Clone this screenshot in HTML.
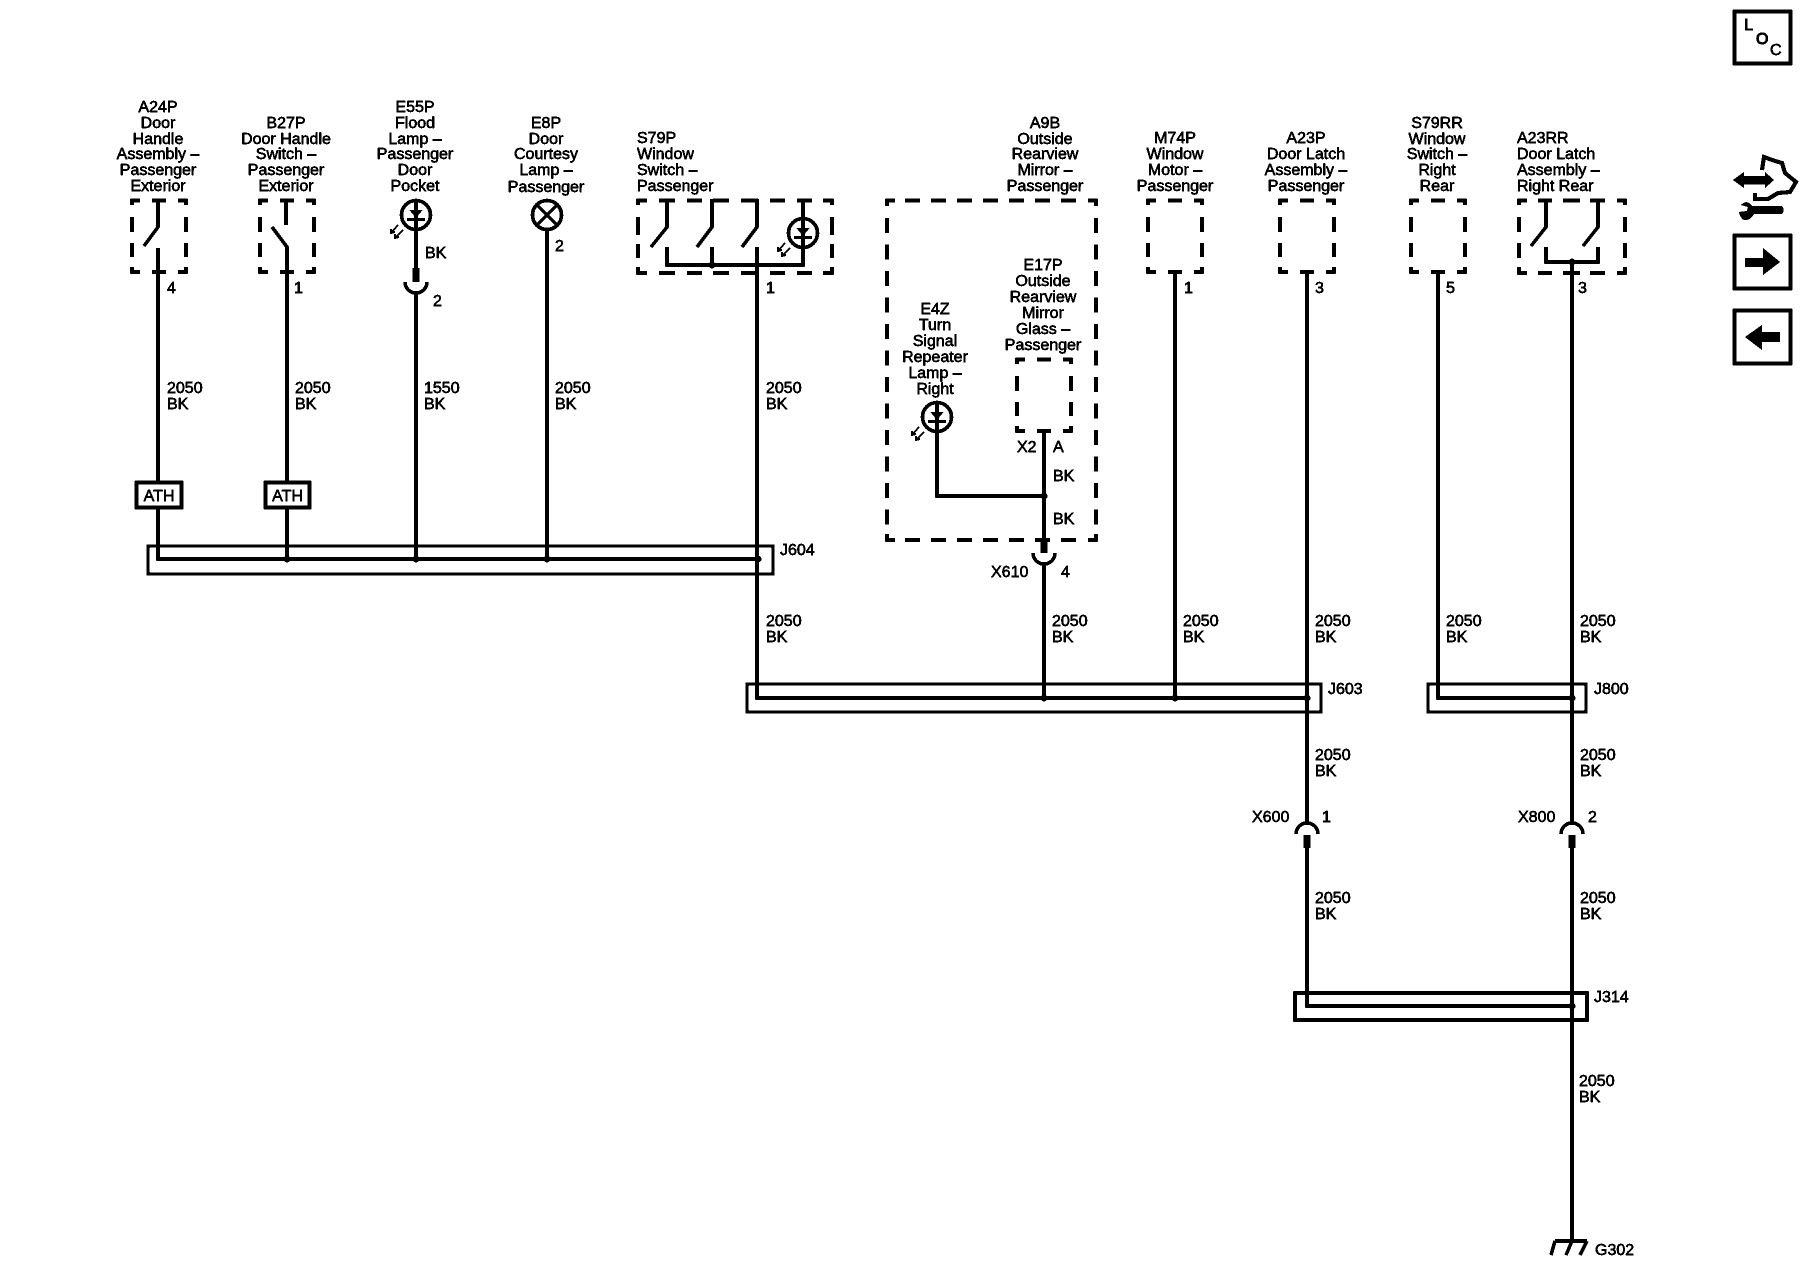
<!DOCTYPE html>
<html><head><meta charset="utf-8">
<style>
html,body{margin:0;padding:0;background:#fff;width:1800px;height:1280px;overflow:hidden}
svg{display:block}
text{font-family:"Liberation Sans",Arial,sans-serif;font-size:16px;fill:#000;stroke:#000;stroke-width:.5px}
.m{text-anchor:middle}
.w{fill:none;stroke:#000;stroke-width:3.4}
.d{fill:none;stroke:#000;stroke-width:3.6}
.t{fill:none;stroke:#000;stroke-width:7}
</style></head><body>
<svg xmlns="http://www.w3.org/2000/svg" width="1800" height="1280" viewBox="0 0 1800 1280" filter="url(#bw)">
<defs>
<filter id="bw" x="0" y="0" width="100%" height="100%" color-interpolation-filters="sRGB">
<feComponentTransfer><feFuncR type="discrete" tableValues="0 0 1"/><feFuncG type="discrete" tableValues="0 0 1"/><feFuncB type="discrete" tableValues="0 0 1"/></feComponentTransfer>
</filter>
<g id="box"><path class="d" d="M-27,6V1.500H-19M-7,1.500H7M19,1.500H27V6M-27,18V33M27,18V33M-27,44V58M27,44V58M-27,68V73H-19M-7,73H7M19,73H27V68"/></g>
<g id="led">
<path class="w" d="M0,-15V15"/>
<circle r="14.500" fill="none" stroke="#000" stroke-width="3.500"/>
<path d="M-6.500,-5H6.500L0,3Z" fill="#000"/>
<path d="M-9,4.500H9" stroke="#000" stroke-width="2.600"/>
<path d="M-18,10L-25,18M-13,15L-21,23M-25,14L-25,18L-21,17M-21,19L-21,23L-17,22" fill="none" stroke="#000" stroke-width="1.700"/>
</g>
</defs>
<rect width="1800" height="1280" fill="#fff"/>

<!-- labels -->
<text x="158" y="112" class="m">A24P</text><text x="158" y="128" class="m">Door</text><text x="158" y="144" class="m">Handle</text><text x="158" y="159" class="m">Assembly –</text><text x="158" y="175" class="m">Passenger</text><text x="158" y="191" class="m">Exterior</text>
<text x="286" y="128" class="m">B27P</text><text x="286" y="144" class="m">Door Handle</text><text x="286" y="159" class="m">Switch –</text><text x="286" y="175" class="m">Passenger</text><text x="286" y="191" class="m">Exterior</text>
<text x="415" y="112" class="m">E55P</text><text x="415" y="128" class="m">Flood</text><text x="415" y="144" class="m">Lamp –</text><text x="415" y="159" class="m">Passenger</text><text x="415" y="175" class="m">Door</text><text x="415" y="191" class="m">Pocket</text>
<text x="546" y="128" class="m">E8P</text><text x="546" y="144" class="m">Door</text><text x="546" y="159" class="m">Courtesy</text><text x="546" y="175" class="m">Lamp –</text><text x="546" y="192" class="m">Passenger</text>
<text x="1045" y="128" class="m">A9B</text><text x="1045" y="144" class="m">Outside</text><text x="1045" y="159" class="m">Rearview</text><text x="1045" y="175" class="m">Mirror –</text><text x="1045" y="191" class="m">Passenger</text>
<text x="1043" y="270" class="m">E17P</text><text x="1043" y="286" class="m">Outside</text><text x="1043" y="302" class="m">Rearview</text><text x="1043" y="318" class="m">Mirror</text><text x="1043" y="334" class="m">Glass –</text><text x="1043" y="350" class="m">Passenger</text>
<text x="935" y="314" class="m">E4Z</text><text x="935" y="330" class="m">Turn</text><text x="935" y="346" class="m">Signal</text><text x="935" y="362" class="m">Repeater</text><text x="935" y="378" class="m">Lamp –</text><text x="935" y="394" class="m">Right</text>
<text x="1175" y="143" class="m">M74P</text><text x="1175" y="159" class="m">Window</text><text x="1175" y="175" class="m">Motor –</text><text x="1175" y="191" class="m">Passenger</text>
<text x="1306" y="143" class="m">A23P</text><text x="1306" y="159" class="m">Door Latch</text><text x="1306" y="175" class="m">Assembly –</text><text x="1306" y="191" class="m">Passenger</text>
<text x="1437" y="128" class="m">S79RR</text><text x="1437" y="144" class="m">Window</text><text x="1437" y="159" class="m">Switch –</text><text x="1437" y="175" class="m">Right</text><text x="1437" y="191" class="m">Rear</text>
<text x="637" y="143">S79P</text><text x="637" y="159">Window</text><text x="637" y="175">Switch –</text><text x="637" y="191">Passenger</text>
<text x="1517" y="143">A23RR</text><text x="1517" y="159">Door Latch</text><text x="1517" y="175">Assembly –</text><text x="1517" y="191">Right Rear</text>

<!-- pin numbers -->
<text x="167" y="293">4</text><text x="294" y="293">1</text><text x="425" y="258">BK</text><text x="433" y="306">2</text><text x="555" y="251">2</text><text x="766" y="293">1</text><text x="1184" y="293">1</text><text x="1315" y="293">3</text><text x="1446" y="293">5</text><text x="1578" y="293">3</text>
<text x="1017" y="452">X2</text><text x="1053" y="452">A</text><text x="1053" y="481">BK</text><text x="1053" y="524">BK</text><text x="991" y="577">X610</text><text x="1061" y="577">4</text>

<!-- wire labels -->
<text x="167" y="393">2050</text><text x="167" y="409">BK</text>
<text x="295" y="393">2050</text><text x="295" y="409">BK</text>
<text x="424" y="393">1550</text><text x="424" y="409">BK</text>
<text x="555" y="393">2050</text><text x="555" y="409">BK</text>
<text x="766" y="393">2050</text><text x="766" y="409">BK</text>
<text x="766" y="626">2050</text><text x="766" y="642">BK</text>
<text x="1052" y="626">2050</text><text x="1052" y="642">BK</text>
<text x="1183" y="626">2050</text><text x="1183" y="642">BK</text>
<text x="1315" y="626">2050</text><text x="1315" y="642">BK</text>
<text x="1446" y="626">2050</text><text x="1446" y="642">BK</text>
<text x="1580" y="626">2050</text><text x="1580" y="642">BK</text>
<text x="1315" y="760">2050</text><text x="1315" y="776">BK</text>
<text x="1580" y="760">2050</text><text x="1580" y="776">BK</text>
<text x="1315" y="903">2050</text><text x="1315" y="919">BK</text>
<text x="1580" y="903">2050</text><text x="1580" y="919">BK</text>
<text x="1579" y="1086">2050</text><text x="1579" y="1102">BK</text>
<text x="780" y="555">J604</text><text x="1328" y="694">J603</text><text x="1594" y="694">J800</text><text x="1594" y="1002">J314</text>
<text x="1252" y="822">X600</text><text x="1322" y="822">1</text><text x="1518" y="822">X800</text><text x="1588" y="822">2</text>
<text x="1595" y="1255">G302</text>

<!-- dashed boxes -->
<use href="#box" x="159" y="199"/><use href="#box" x="287" y="199"/><use href="#box" x="1175" y="199"/><use href="#box" x="1307" y="199"/><use href="#box" x="1438" y="199"/><use href="#box" x="1044" y="358"/>
<path class="d" d="M638,205V200.500H647M659,200.500H675M687,200.500H702M713,200.500H729M741,200.500H758M770,200.500H785M797,200.500H812M823,200.500H832V205M638,217V235M832,217V235M638,244V258M832,244V258M638,267V273H647M659,273H675M687,273H702M713,273H729M741,273H758M770,273H785M797,273H812M823,273H832V267"/>
<path class="d" d="M1519,205V200.500H1527M1538,200.500H1552M1563,200.500H1580M1590,200.500H1605M1617,200.500H1625V205M1519,217V232M1625,217V232M1519,243V258M1625,243V258M1519,267V273H1527M1538,273H1552M1563,273H1580M1590,273H1605M1617,273H1625V267"/>
<path class="d" d="M895,200.500H887V206"/><path class="d" d="M1088,200.500H1096V206"/><path class="d" d="M895,540H887V534"/><path class="d" d="M1088,540H1096V534"/>
<path class="d" d="M905,200.500H1080" stroke-dasharray="15 11"/>
<path class="d" d="M905,540H1080" stroke-dasharray="15 11"/>
<path class="d" d="M887,218V525" stroke-dasharray="15 11.500"/>
<path class="d" d="M1096,218V525" stroke-dasharray="15 11.500"/>

<!-- buses -->
<rect x="148" y="546" width="625" height="28" fill="none" stroke="#000" stroke-width="3.300"/>
<rect x="747" y="684" width="574" height="28" fill="none" stroke="#000" stroke-width="3.300"/>
<rect x="1428" y="684" width="158" height="28" fill="none" stroke="#000" stroke-width="3.300"/>
<rect x="1295" y="993" width="292" height="27" fill="none" stroke="#000" stroke-width="3.400"/>

<!-- wires -->
<path class="w" d="M158,199V227L144,246M158,248V559H757"/>
<path class="w" d="M286,199V225M272,227L287,247V559"/>
<path class="w" d="M416,199V270M416,293V559"/>
<path class="t" d="M416,268V282"/>
<path class="w" stroke-width="3.600" d="M405,282A11,11 0 0 0 427,282"/>
<path class="w" d="M547,199V559"/>
<path class="w" d="M667,199V227L651,247M667,247V265H803V199M712,199V227L697,247M712,247V265M757,199V227L742,247M757,247V698H1307"/>
<path class="w" d="M1175,273V698"/>
<path class="w" d="M1307,273V824M1307,848V1006H1572"/>
<path class="w" d="M1438,273V698H1572"/>
<path class="w" d="M1546,199V227L1531,246M1546,247V262H1598V247M1598,199V227L1583,246M1572,262V824M1572,848V1242"/>
<path class="w" d="M937,430V496H1044M1044,433V553M1044,564V698"/>
<path class="t" d="M1044,540V553"/>
<path class="w" d="M1033,553A11,11 0 0 0 1055,553"/>
<!-- X600 / X800 -->
<path class="w" d="M1296,834A11,11 0 0 1 1318,834"/>
<path class="w" d="M1561,834A11,11 0 0 1 1583,834"/>
<path class="t" d="M1307,835V848M1572,835V848"/>

<!-- lamps -->
<circle cx="416" cy="215" r="14" fill="#fff"/><use href="#led" x="416" y="215"/>
<circle cx="803" cy="233" r="14" fill="#fff"/><use href="#led" x="803" y="233"/>
<circle cx="937" cy="417" r="14" fill="#fff"/><use href="#led" x="937" y="417"/>
<circle cx="547" cy="215" r="14.500" fill="#fff" stroke="#000" stroke-width="3.500"/>
<path d="M537,205L557,225M557,205L537,225" stroke="#000" stroke-width="3.200"/>

<!-- dots -->
<g fill="#000"><circle cx="287" cy="559" r="3.400"/><circle cx="416" cy="559" r="3.400"/><circle cx="547" cy="559" r="3.400"/><circle cx="758" cy="559" r="3.400"/><circle cx="712" cy="265" r="3.400"/><circle cx="1572" cy="262" r="3.400"/><circle cx="1044" cy="496" r="3.400"/><circle cx="1044" cy="698" r="3.400"/><circle cx="1175" cy="698" r="3.400"/><circle cx="1307" cy="698" r="3.400"/><circle cx="1572" cy="698" r="3.400"/><circle cx="1572" cy="1006" r="3.400"/></g>

<!-- ATH -->
<rect x="136.500" y="482.500" width="45" height="25" fill="#fff" stroke="#000" stroke-width="3.500"/>
<rect x="265.500" y="482.500" width="44" height="25" fill="#fff" stroke="#000" stroke-width="3.500"/>
<text x="159" y="501" class="m">ATH</text><text x="287.500" y="501" class="m">ATH</text>

<!-- ground -->
<path d="M1555,1241H1587M1555,1241L1551,1255M1572,1241L1566,1255M1587,1241L1580,1255" fill="none" stroke="#000" stroke-width="3.400"/>

<!-- right icons -->
<rect x="1734.500" y="11.500" width="56" height="52" fill="none" stroke="#000" stroke-width="3.400"/>
<text x="1744" y="30" style="stroke-width:.9px">L</text><text x="1756" y="44" style="stroke-width:.9px">O</text><text x="1770" y="55" style="stroke-width:.6px">C</text>
<rect x="1734.500" y="235.500" width="56" height="53" fill="none" stroke="#000" stroke-width="3.400"/>
<path d="M1745,258H1763V248L1780,262L1763,275V267H1745Z" fill="#000"/>
<rect x="1734.500" y="310.500" width="56" height="53" fill="none" stroke="#000" stroke-width="3.400"/>
<path d="M1745,337L1762,325V332H1780V342H1762V350Z" fill="#000"/>
<path d="M1733,180L1744,172V176H1765V172L1774,180L1765,188V184.500H1744V188Z" fill="#000"/>
<path d="M1762,170L1764,157L1772,160L1782,163L1785,173L1796,182L1790,192L1778,193L1768,199H1755V193" fill="none" stroke="#000" stroke-width="4"/>
<path d="M1752,206H1782Q1785,210 1782,214H1754Q1750,221 1744,220Q1740,218 1739,212L1747,211L1748,207L1741,205Q1747,199 1752,206Z" fill="#000"/>
</svg>
</body></html>
